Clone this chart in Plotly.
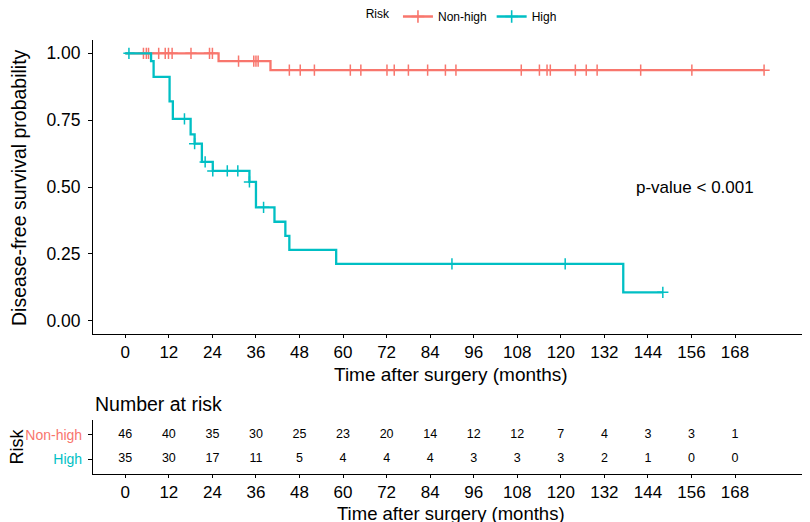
import numpy as np
import plotly.graph_objects as go

# Kaplan-Meier steps (months, survival)
nonhigh_time = [0, 25.7, 40.0, 176.0]
nonhigh_surv = [1.0, 0.971, 0.937, 0.937]
high_time = [0, 7.1, 7.8, 12.2, 13.1, 18.0, 19.1, 21.1, 24.1, 34.2, 36.0, 41.1, 44.1, 45.2, 58.1, 137.2, 148.1]
high_surv = [1.0, 0.971, 0.912, 0.82, 0.755, 0.697, 0.662, 0.594, 0.56, 0.519, 0.424, 0.37, 0.317, 0.265, 0.212,
             0.106, 0.106]

# censored observations (the "+" marks)
nonhigh_cens = [5.0, 5.8, 6.4, 9.2, 11.0, 11.9, 12.9, 18.1, 23.2, 24.0, 31.2, 35.4, 36.0, 36.6, 45.2, 48.2, 52.1,
                62.0, 64.9, 72.1, 74.1, 78.0, 83.3, 88.2, 91.1, 109.1, 114.1, 116.2, 117.1, 124.0, 127.0, 130.0,
                142.0, 156.1, 176.0]
high_cens = [1.0, 16.3, 19.1, 22.0, 24.1, 28.1, 31.0, 34.2, 38.1, 90.0, 121.2, 148.1]

# number at risk table
risk_times = [0, 12, 24, 36, 48, 60, 72, 84, 96, 108, 120, 132, 144, 156, 168]
risk_nonhigh = [46, 40, 35, 30, 25, 23, 20, 14, 12, 12, 7, 4, 3, 3, 1]
risk_high = [35, 30, 17, 11, 5, 4, 4, 4, 3, 3, 3, 2, 1, 0, 0]

RED = '#F8766D'
TEAL = '#00BFC4'
FONT = 'Liberation Sans, Arial, sans-serif'
W, H = 802, 514  # page body keeps an 8px margin


def surv_at(t, times, surv):
    # value of the step function at time t
    idx = np.searchsorted(times, t, side='right') - 1
    return np.asarray(surv)[idx]


def py(px):
    # figure pixel row -> paper y
    return 1 - px / H


fig = go.Figure()

for name, tt, ss, cc, col in [('Non-high', nonhigh_time, nonhigh_surv, nonhigh_cens, RED),
                              ('High', high_time, high_surv, high_cens, TEAL)]:
    fig.add_trace(go.Scatter(x=tt, y=ss, mode='lines', line=dict(color=col, width=2.3, shape='hv'),
                             showlegend=False, xaxis='x', yaxis='y'))
    fig.add_trace(go.Scatter(x=cc, y=surv_at(cc, tt, ss), mode='markers',
                             marker=dict(symbol='cross-thin', size=8, line=dict(color=col, width=1.5)),
                             showlegend=False, xaxis='x', yaxis='y'))
    # legend entry only (line with a cross)
    fig.add_trace(go.Scatter(x=[None], y=[None], mode='lines+markers', name=name,
                             line=dict(color=col, width=2.3),
                             marker=dict(symbol='cross-thin', size=9, line=dict(color=col, width=1.6))))

# risk table numbers
fig.add_trace(go.Scatter(x=risk_times, y=[2] * len(risk_times), mode='text', text=[str(v) for v in risk_nonhigh],
                         textfont=dict(size=12.5, color='black', family=FONT), showlegend=False,
                         xaxis='x2', yaxis='y2'))
fig.add_trace(go.Scatter(x=risk_times, y=[1] * len(risk_times), mode='text', text=[str(v) for v in risk_high],
                         textfont=dict(size=12.5, color='black', family=FONT), showlegend=False,
                         xaxis='x2', yaxis='y2'))

xrng = [-8.9, 188.1]
axis_common = dict(showline=True, linecolor='black', linewidth=1.1, ticks='outside',
                   tickcolor='black', showgrid=False, zeroline=False, automargin=False)

title_kw = dict(xref='paper', yref='paper', showarrow=False, xanchor='center', yanchor='middle',
                font=dict(size=19.5))

fig.update_layout(
    width=W, height=H,
    margin=dict(l=85, r=2, t=0, b=0, autoexpand=False),
    paper_bgcolor='white', plot_bgcolor='white',
    font=dict(family=FONT, color='black'),
    xaxis=dict(domain=[0, 1], range=xrng, tickvals=risk_times, anchor='y', ticklen=3,
               tickfont=dict(size=17, color='black'), **axis_common),
    yaxis=dict(domain=[py(326), py(32)], range=[-0.05, 1.05], tickvals=[0, 0.25, 0.5, 0.75, 1.0],
               tickformat='.2f', anchor='x', ticklabelstandoff=4, ticklen=4,
               tickfont=dict(size=17.5, color='black'), **axis_common),
    xaxis2=dict(domain=[0, 1], range=xrng, tickvals=risk_times, anchor='y2', ticklen=3,
                tickfont=dict(size=17, color='black'), **axis_common),
    yaxis2=dict(domain=[py(466), py(412)], range=[0.4, 2.6], tickvals=[1, 2],
                ticktext=['<span style="color:%s">High</span>' % TEAL,
                          '<span style="color:%s">Non-high</span>' % RED],
                anchor='x2', ticklabelstandoff=3, ticklen=4, tickfont=dict(size=14), **axis_common),
    legend=dict(orientation='h', x=0.3785, xanchor='left', y=1.0117, yanchor='top',
                title=dict(text='Risk', font=dict(size=12)), font=dict(size=12),
                bgcolor='rgba(0,0,0,0)', itemwidth=30),
    annotations=[
        dict(text='p-value < 0.001', x=157, y=0.5, xref='x', yref='y', showarrow=False,
             xanchor='center', yanchor='middle', font=dict(size=17)),
        dict(text='Disease-free survival probability', x=-0.1035, y=py(179), textangle=-90, **title_kw),
        dict(text='Time after surgery (months)', x=0.5, y=py(366.5), xref='paper', yref='paper',
             xanchor='center', yanchor='middle', showarrow=False, font=dict(size=19)),
        dict(text='Number at risk', x=0, y=py(396), xref='paper', yref='paper', xanchor='left',
             yanchor='middle', showarrow=False, font=dict(size=19.5)),
        dict(text='Risk', x=(8.5 - 85) / 715, y=py(439), xref='paper', yref='paper', xanchor='center',
             yanchor='middle', textangle=-90, showarrow=False, font=dict(size=18)),
        dict(text='Time after surgery (months)', x=0.5, y=py(505.5), xref='paper', yref='paper',
             xanchor='center', yanchor='middle', showarrow=False, font=dict(size=18.5)),
    ],
)

fig.write_html("out.html")
